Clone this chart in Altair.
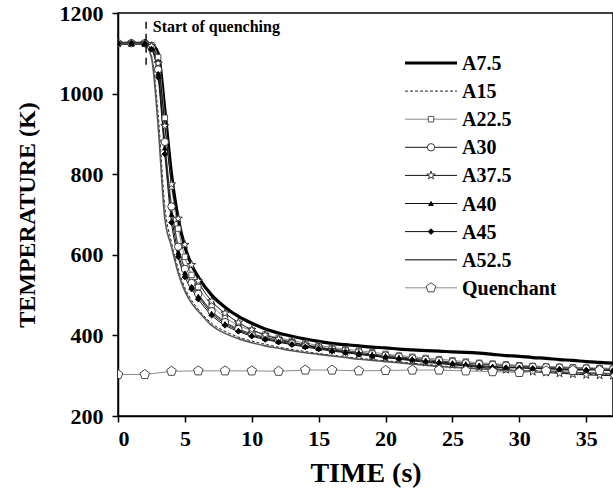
import altair as alt
import pandas as pd

# ---------------- data ----------------
TIME = [0, 1, 2, 2.5, 3, 3.5, 4, 4.5, 5, 5.5, 6, 7, 8, 9, 10, 11, 12, 13, 14, 15, 16,
        17, 18, 19, 20, 21, 22, 23, 24, 25, 26, 27, 28, 29, 30, 31, 32, 33, 34, 35, 36, 37]

A7_5 = [1125, 1125, 1125, 1122, 1100, 960, 800, 690, 620, 575, 545, 500, 470, 447, 430, 416,
        406, 398, 391, 385, 380, 377, 374, 371, 369, 366, 364, 362, 361, 359, 358, 356, 353,
        350, 348, 345, 343, 340, 338, 335, 333, 331]
A15 = [1125, 1125, 1123, 1095, 950, 720, 630, 565, 518, 487, 465, 430, 410, 396, 386, 378,
       371, 365, 360, 355, 351, 347, 343, 340, 337, 334, 331, 328, 325, 322, 320, 318, 316,
       314, 312, 310, 309, 307, 305, 304, 303, 302]
A22_5 = [1125, 1125, 1125, 1120, 1090, 940, 770, 665, 595, 550, 520, 475, 445, 425, 412, 402,
         394, 387, 381, 375, 370, 366, 362, 358, 354, 350, 347, 344, 341, 338, 335, 332, 330,
         328, 326, 324, 323, 322, 321, 320, 319, 318]
A30 = [1125, 1125, 1125, 1115, 1060, 880, 720, 620, 565, 530, 503, 460, 433, 416, 404, 395,
       388, 382, 376, 371, 366, 362, 358, 354, 350, 347, 343, 340, 337, 334, 331, 329, 327,
       325, 323, 322, 321, 320, 319, 318, 317, 316]
A37_5 = [1125, 1125, 1125, 1118, 1075, 920, 775, 690, 625, 575, 535, 485, 455, 432, 414, 401,
         391, 383, 376, 370, 364, 359, 354, 349, 345, 341, 337, 333, 330, 327, 324, 321, 318,
         315, 312, 310, 308, 306, 304, 302, 301, 300]
A40 = [1125, 1125, 1124, 1112, 1050, 865, 700, 605, 555, 522, 497, 455, 429, 413, 401, 392,
       385, 379, 373, 368, 363, 359, 355, 351, 348, 344, 341, 337, 334, 331, 328, 325, 323,
       321, 320, 319, 318, 317, 316, 315, 314, 313]
A45 = [1125, 1125, 1124, 1110, 1040, 850, 680, 595, 545, 515, 490, 450, 425, 410, 398, 390,
       383, 377, 371, 366, 361, 357, 353, 349, 346, 342, 339, 335, 332, 329, 326, 323, 321,
       320, 319, 318, 317, 316, 315, 314, 314, 313]
A52_5 = [1125, 1125, 1122, 1090, 920, 690, 620, 555, 510, 480, 460, 425, 405, 392, 382, 374,
         368, 362, 357, 353, 349, 345, 341, 338, 335, 332, 329, 326, 323, 321, 319, 317, 315,
         313, 312, 311, 310, 309, 308, 307, 306, 305]

QUENCH_TIME = [0, 2, 4, 6, 8, 10, 12, 14, 16, 18, 20, 22, 24, 26, 28, 30, 32, 34, 36]
QUENCH_TEMP = [303, 303, 311, 312, 312, 312, 311, 314, 314, 312, 313, 314, 314, 312, 310,
               308, 312, 313, 313]

SERIES = ["A7.5", "A15", "A22.5", "A30", "A37.5", "A40", "A45", "A52.5", "Quenchant"]
CURVES = {"A7.5": A7_5, "A15": A15, "A22.5": A22_5, "A30": A30, "A37.5": A37_5,
          "A40": A40, "A45": A45, "A52.5": A52_5}

X_TICKS = [0, 5, 10, 15, 20, 25, 30, 35]
Y_TICKS = [200, 400, 600, 800, 1000, 1200]

START_TIME = [2.1]
START_SPAN = [1178, 1059]
ANNOT_POS = [2.6, 1153]
ANNOT_TEXT = "Start of quenching"

# ---------------- tables ----------------
rows = []
for name, vals in CURVES.items():
    for t, v in zip(TIME, vals):
        rows.append({"series": name, "time": t, "temp": v})
for t, v in zip(QUENCH_TIME, QUENCH_TEMP):
    rows.append({"series": "Quenchant", "time": t, "temp": v})
df = pd.DataFrame(rows)
legend_df = pd.DataFrame({"label": SERIES})

# ---------------- styles ----------------
STAR = ("M0,-1L0.235,-0.324L0.951,-0.309L0.38,0.124L0.588,0.809L0,0.4L-0.588,0.809"
        "L-0.38,0.124L-0.951,-0.309L-0.235,-0.324Z")
PENTA = "M0,-1L0.951,-0.309L0.588,0.809L-0.588,0.809L-0.951,-0.309Z"

STYLE = {
    "A7.5": dict(color="#000000", width=3.2, dash=None, shape=None),
    "A15": dict(color="#222222", width=1.0, dash=[3, 2], shape=None),
    "A22.5": dict(color="#8a8a8a", width=1.0, dash=None, shape="square", fill="white",
                  stroke="#444444", size=30),
    "A30": dict(color="#444444", width=1.2, dash=None, shape="circle", fill="white",
                stroke="#222222", size=55),
    "A37.5": dict(color="#111111", width=1.0, dash=None, shape=STAR, fill="white",
                  stroke="#222222", size=75),
    "A40": dict(color="#111111", width=1.0, dash=None, shape="triangle-up", fill="black",
                stroke="black", size=22),
    "A45": dict(color="#111111", width=1.0, dash=None, shape="diamond", fill="black",
                stroke="black", size=32),
    "A52.5": dict(color="#555555", width=1.6, dash=None, shape=None),
    "Quenchant": dict(color="#8a8a8a", width=1.0, dash=None, shape=PENTA, fill="white",
                      stroke="#333333", size=100),
}

FONT = "Liberation Serif"
W, H = 495, 403
xs = alt.Scale(domain=[0, 37], nice=False, zero=False)
ys = alt.Scale(domain=[200, 1200], nice=False, zero=False)

x_axis = alt.Axis(values=X_TICKS, title="TIME (s)", grid=False, tickSize=6,
                  labelPadding=6, titlePadding=10, format="d")
y_axis = alt.Axis(values=Y_TICKS, title="TEMPERATURE (K)", grid=False, tickSize=6,
                  labelPadding=9, titlePadding=20, format="d")

X = alt.X("time:Q", scale=xs, axis=x_axis)
Y = alt.Y("temp:Q", scale=ys, axis=y_axis)

layers = []
for name in SERIES:
    st = STYLE[name]
    base = alt.Chart(df).transform_filter(alt.datum.series == name)
    lk = dict(color=st["color"], strokeWidth=st["width"], clip=True)
    if name != "Quenchant":
        lk["interpolate"] = "monotone"
    if st["dash"]:
        lk["strokeDash"] = st["dash"]
    layers.append(base.mark_line(**lk).encode(x=X, y=Y))

for name in SERIES:
    st = STYLE[name]
    if st["shape"]:
        base = alt.Chart(df).transform_filter(alt.datum.series == name)
        layers.append(base.mark_point(shape=st["shape"], filled=True, fill=st["fill"],
                                      stroke=st["stroke"], strokeWidth=0.9, size=st["size"],
                                      opacity=1, clip=True).encode(x=X, y=Y))

# start-of-quenching marker
start_df = pd.DataFrame({"t": START_TIME, "y1": [START_SPAN[0]], "y2": [START_SPAN[1]]})
layers.append(alt.Chart(start_df).mark_rule(color="black", strokeWidth=1.4,
                                            strokeDash=[7, 5]).encode(
    x=alt.X("t:Q", scale=xs), y=alt.Y("y1:Q", scale=ys), y2="y2:Q"))
annot_df = pd.DataFrame({"t": [ANNOT_POS[0]], "y": [ANNOT_POS[1]], "label": [ANNOT_TEXT]})
layers.append(alt.Chart(annot_df).mark_text(align="left", baseline="alphabetic", font=FONT,
                                            fontSize=16, fontWeight="bold",
                                            color="black").encode(
    x=alt.X("t:Q", scale=xs), y=alt.Y("y:Q", scale=ys), text="label:N"))

# legend (manual, inside plot)
LX0, LX1, LXT = 287, 339, 344
for i, name in enumerate(SERIES):
    st = STYLE[name]
    ry = 50 + i * 28.1
    lb = alt.Chart(legend_df).transform_filter(alt.datum.label == name)
    rk = dict(color=st["color"], strokeWidth=st["width"])
    if st["dash"]:
        rk["strokeDash"] = st["dash"]
    layers.append(lb.mark_rule(**rk).encode(x=alt.value(LX0), x2=alt.value(LX1),
                                            y=alt.value(ry)))
    if st["shape"]:
        layers.append(lb.mark_point(shape=st["shape"], filled=True, fill=st["fill"],
                                    stroke=st["stroke"], strokeWidth=0.9, size=st["size"],
                                    opacity=1).encode(x=alt.value((LX0 + LX1) / 2),
                                                      y=alt.value(ry)))
    layers.append(lb.mark_text(align="left", baseline="middle", font=FONT, fontSize=20,
                               fontWeight="bold", color="black").encode(
        x=alt.value(LXT), y=alt.value(ry + 1), text="label:N"))

chart = alt.layer(*layers).properties(
    width=W, height=H,
    padding={"left": 118, "top": 13, "right": 0, "bottom": 81},
    autosize=alt.AutoSizeParams(type="none"),
    background="white",
).configure_view(stroke="black", strokeWidth=1.5).configure_axis(
    domainColor="black", domainWidth=1.5, tickColor="black", tickWidth=1.5,
    labelFont=FONT, labelFontSize=22, labelFontWeight="bold", labelColor="black",
    titleFont=FONT, titleFontWeight="bold", titleColor="black",
).configure_axisX(titleFontSize=28).configure_axisY(titleFontSize=24)

chart.save("out.html", embed_options={"renderer": "svg", "actions": False})
